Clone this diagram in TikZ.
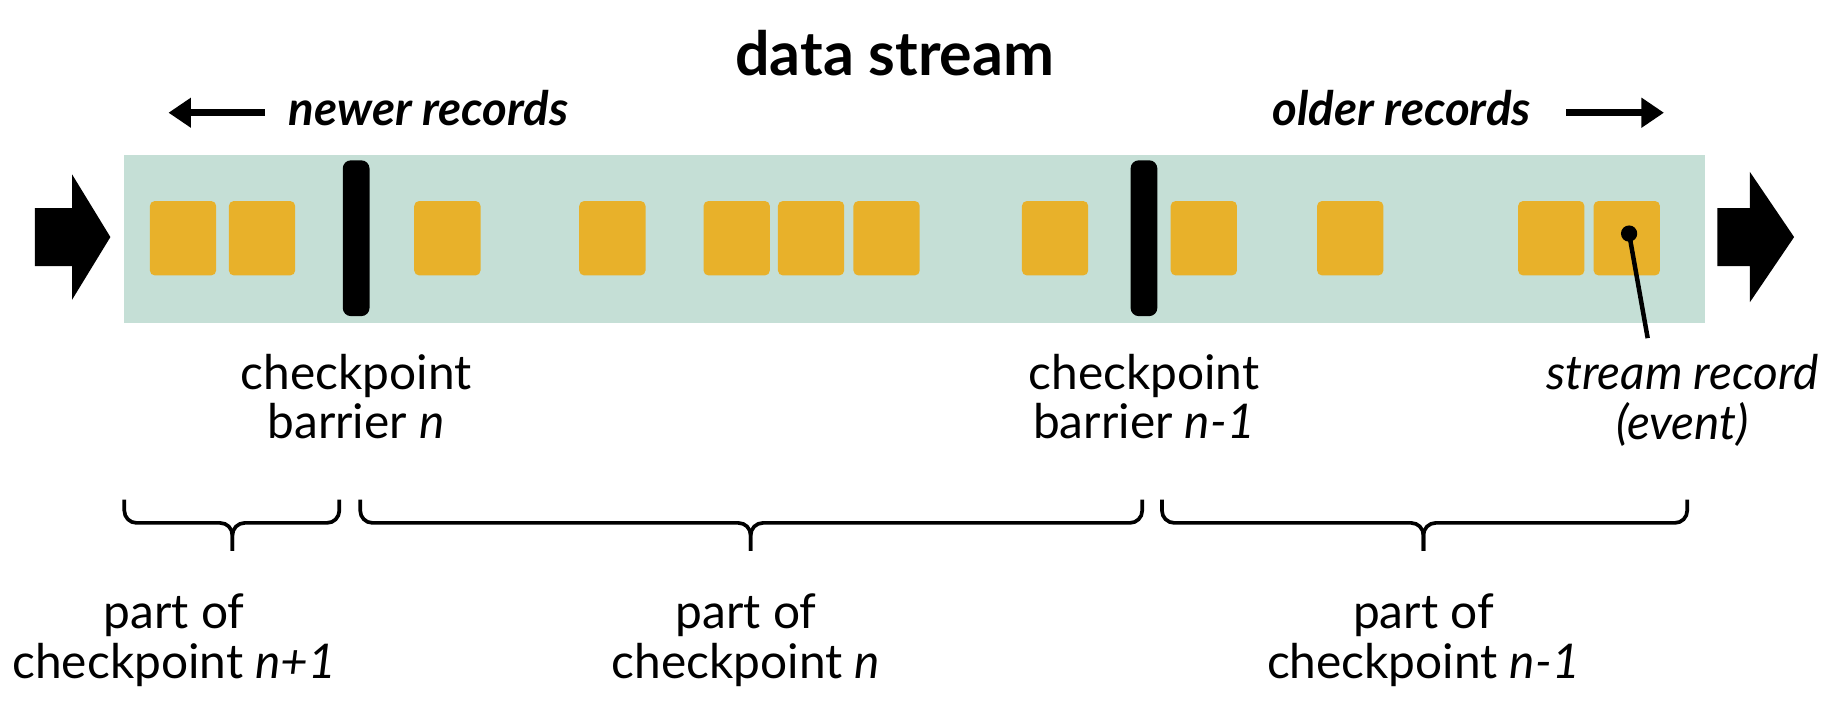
\documentclass[tikz,border=0pt]{standalone}
\usepackage{fontspec}
\setmainfont{Lato}
\usetikzlibrary{calc, arrows.meta, positioning}

\definecolor{lane}{RGB}{197, 223, 214}
\definecolor{rec}{RGB}{232, 177, 42}

\tikzset{
	record/.style={fill=rec, rounded corners=1.2pt, minimum width=0.57cm, minimum height=0.64cm, inner sep=0pt},
	barrier/.style={fill=black, rounded corners=2pt, minimum width=0.23cm, minimum height=1.34cm, inner sep=0pt},
	lbl/.style={align=center, inner sep=0pt, font=\fontsize{11.7}{12.2}\selectfont},
	dir/.style={inner sep=0pt, font=\fontsize{11.6}{12}\selectfont\bfseries\itshape},
	dirarrow/.style={line width=1.7pt, -{Triangle[length=5.5pt, width=7pt]}},
	brc/.style={line width=0.9pt, rounded corners=3pt}
}

\begin{document}
\begin{tikzpicture}[x=0.01cm, y=-0.01cm]
	\useasboundingbox (0,0) rectangle (1568,608);

	\node[font=\fontsize{14.9}{16}\selectfont\bfseries] (title) at (770,46) {data stream};

	\node[dir, anchor=base west] (newer) at (248,108) {newer records};
	\node[dir, anchor=base east] (older) at (1318,108) {older records};
	\coordinate (newtip) at (145,97);
	\coordinate (oldtip) at (1432,97);
	\draw[dirarrow] (newer.west |- newtip) ++(-0.2cm,0) -- (newtip);
	\draw[dirarrow] (older.east |- oldtip) ++(0.3cm,0) -- (oldtip);

	% the stream itself
	\fill[lane] (107,133) rectangle (1467,278);
	\fill (30,179) -- (62,179) -- (62,150) -- (95,204) -- (62,258) -- (62,229) -- (30,229) -- cycle;
	\fill (1478,179) -- (1506,179) -- (1506,148) -- (1544,204) -- (1506,260) -- (1506,229) -- (1478,229) -- cycle;

	\foreach \x [count=\i] in {157.5, 225.5, 385, 527, 634, 698, 763, 908, 1036, 1162, 1335, 1400}
		\node[record] (r\i) at (\x,205) {};

	\node[barrier] (bar1) at (306.5,205) {};
	\node[barrier] (bar2) at (984.5,205) {};

	\node[lbl, below=0.31cm of bar1] (bl1) {checkpoint\\barrier \textit{n}};
	\node[lbl, below=0.31cm of bar2] (bl2) {checkpoint\\barrier \textit{n-1}};

	% pointer to one record
	\coordinate (dot) at (1402,201);
	\fill (dot) circle (7);
	\node[lbl, anchor=north, font=\fontsize{11.7}{12.2}\selectfont\itshape] (evt) at (1448,304) {stream record\\(event)};
	\coordinate (tail) at (1418,291);
	\draw[line width=1.1pt] (dot) -- (tail);

	% braces
	\foreach \a/\m/\b in {107/200/292, 310/646/983, 1000/1225/1452}{
		\draw[brc] (\a,430) |- (\m,450) -- (\m,474);
		\draw[brc] (\b,430) |- (\m,450) -- (\m,474);
	}

	\node[lbl, anchor=north] (ck1) at (150,510) {part of\\checkpoint \textit{n+1}};
	\node[lbl, anchor=north] (ck2) at (642,510) {part of\\checkpoint \textit{n}};
	\node[lbl, anchor=north] (ck3) at (1225,510) {part of\\checkpoint \textit{n-1}};

\end{tikzpicture}
\end{document}
